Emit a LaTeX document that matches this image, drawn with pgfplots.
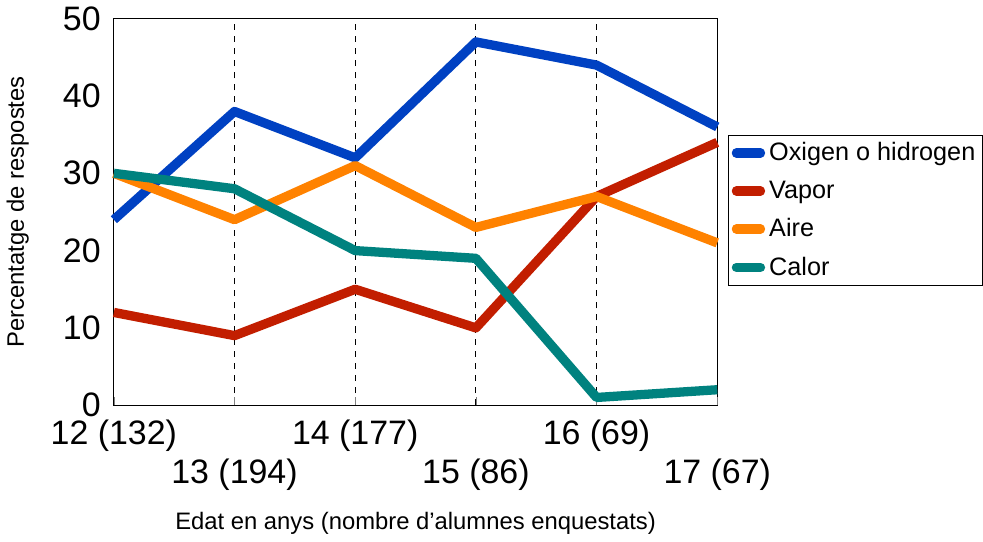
\documentclass[border=0pt]{standalone}
\usepackage{fontspec}
\setmainfont{Liberation Sans}
\usepackage{pgfplots}
\pgfplotsset{compat=1.18}
\definecolor{cblue}{HTML}{0041C2}
\definecolor{cred}{HTML}{C21E00}
\definecolor{corange}{HTML}{FF8200}
\definecolor{cteal}{HTML}{00827F}
\begin{document}
\begin{tikzpicture}
\begin{axis}[
  scale only axis,
  width=299pt, height=191.5pt,
  xmin=0, xmax=5, ymin=0, ymax=50,
  xtick={0,2,4},
  xticklabels={12 (132),14 (177),16 (69)},
  extra x ticks={1,3,5},
  extra x tick labels={13 (194),15 (86),17 (67)},
  extra x tick style={tick label style={yshift=-19pt}, grid=major},
  ytick={0,10,20,30,40,50},
  xmajorgrids=true,
  grid style={black, dashed, line width=0.4pt},
  tick align=inside,
  xtick pos=bottom,
  ytick pos=left,
  major tick length=4pt,
  y tick style={draw=none},
  /pgf/number format/assume math mode=true,
  tick label style={font=\fontsize{16.8}{18}\selectfont},
  xticklabel style={yshift=-4pt},
  yticklabel style={xshift=-3pt},
  xlabel={Edat en anys (nombre d’alumnes enquestats)},
  ylabel={Percentatge de respostes},
  label style={font=\fontsize{11.8}{13}\selectfont},
  xlabel style={yshift=-4pt},
  ylabel style={yshift=10pt},
  axis line style={line width=0.6pt},
  legend style={at={(rel axis cs:1.018,0.70)}, anchor=north west,
    font=\fontsize{12.5}{14}\selectfont, draw=black, line width=0.6pt,
    inner sep=1.5pt, row sep=4.5pt, cells={anchor=west}},
  legend image code/.code={\draw[#1, line cap=round] (0cm,0cm) -- (0.42cm,0cm);},
  every axis plot/.append style={line width=4.6pt, line join=round},
  clip=false,
]
\addplot[cblue] coordinates {(0,24) (1,38) (2,32) (3,47) (4,44) (5,36)};
\addlegendentry{Oxigen o hidrogen}
\addplot[cred] coordinates {(0,12) (1,9) (2,15) (3,10) (4,27) (5,34)};
\addlegendentry{Vapor}
\addplot[corange] coordinates {(0,30) (1,24) (2,31) (3,23) (4,27) (5,21)};
\addlegendentry{Aire}
\addplot[cteal] coordinates {(0,30) (1,28) (2,20) (3,19) (4,1) (5,2)};
\addlegendentry{Calor}
\end{axis}
\end{tikzpicture}
\end{document}
